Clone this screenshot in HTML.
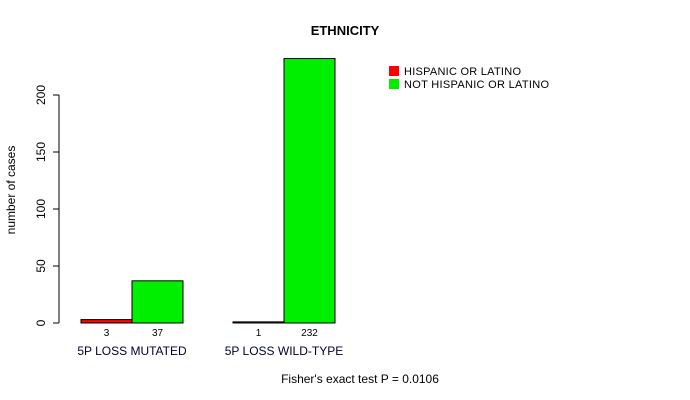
<!DOCTYPE html>
<html><head><meta charset="utf-8"><style>body{margin:0;background:#fff}svg{display:block;font-family:"Liberation Sans",sans-serif}</style></head><body>
<svg id="c" width="690" height="400">
<text x="345" y="35" font-size="13" font-weight="bold" text-anchor="middle">ETHNICITY</text>
<text transform="translate(15,190) rotate(-90)" font-size="12" text-anchor="middle">number of cases</text>
<text x="360" y="383" font-size="12" text-anchor="middle">Fisher's exact test P = 0.0106</text>
<g id="legend">
<rect x="389" y="66" width="10" height="10" fill="#ff0000"/>
<text x="404" y="75" font-size="11" textLength="117">HISPANIC OR LATINO</text>
<rect x="389" y="79" width="10" height="10" fill="#00ee00"/>
<text x="404" y="88" font-size="11" textLength="145">NOT HISPANIC OR LATINO</text>
</g>
</svg>
<script>
const groups=["5P LOSS MUTATED","5P LOSS WILD-TYPE"];
const hispanic=[3,1];
const notHispanic=[37,232];
const ticks=[0,50,100,150,200];
const svg=document.getElementById('c');const NS='http://www.w3.org/2000/svg';
function y(v){return 323-v*1.14;}
function mk(t,a){const e=document.createElementNS(NS,t);for(const k in a)e.setAttribute(k,a[k]);svg.appendChild(e);return e;}
const ax=mk('line',{x1:59,x2:59,y1:y(0),y2:y(200),stroke:'#000'});


ticks.forEach(t=>{const l=mk('line',{x1:53,x2:59,y1:y(t),y2:y(t),stroke:'#000'});


const tx=mk('text',{transform:`translate(45,${y(t)}) rotate(-90)`,'font-size':12,'text-anchor':'middle'});tx.textContent=t;

});
groups.forEach((g,i)=>{const x0=81+i*152;
[[hispanic[i],'#ff0000'],[notHispanic[i],'#00ee00']].forEach((d,j)=>{const x=x0+j*51;
const r=mk('rect',{x:x,y:y(d[0]),width:51,height:y(0)-y(d[0]),fill:d[1],stroke:'#000'});


const t=mk('text',{x:x+25.5,y:336,'font-size':10,'text-anchor':'middle'});t.textContent=d[0];

});
const gl=mk('text',{x:x0+51,y:355,'font-size':12,'text-anchor':'middle',fill:'#000033'});gl.textContent=g;

});
</script>
</body></html>
